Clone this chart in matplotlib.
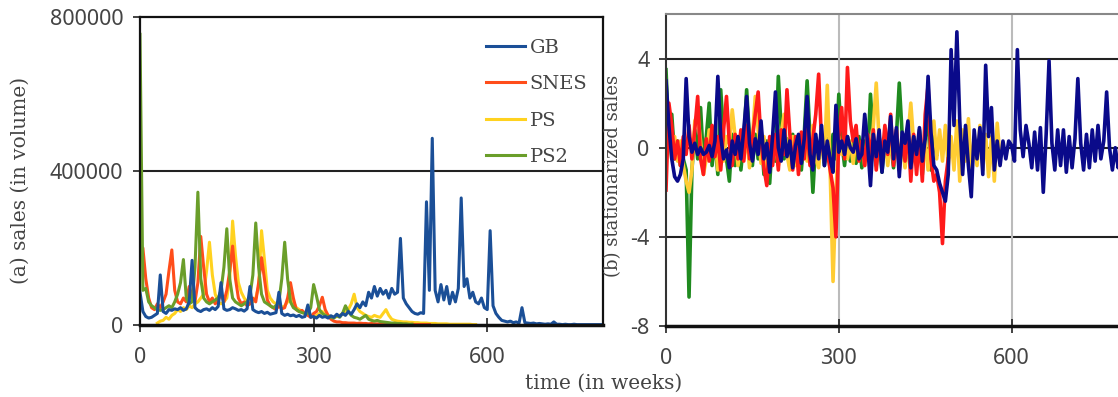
import numpy as np
import matplotlib
matplotlib.use("Agg")
import matplotlib.pyplot as plt

plt.rcParams["axes.unicode_minus"] = False

# weekly sales (thousands of units), sampled every 5 weeks
step = 5

gb_start = 0
gb_sales = [85, 35, 22, 18, 20, 25, 30, 130, 35, 30, 40, 38, 42, 40, 45, 38, 42, 60, 168, 45,
            38, 35, 40, 42, 38, 45, 40, 48, 110, 42, 38, 40, 45, 42, 38, 40, 36, 42, 100, 40,
            35, 32, 35, 30, 33, 28, 30, 32, 85, 30, 25, 28, 24, 26, 22, 25, 20, 22, 52, 20,
            22, 18, 25, 20, 22, 18, 24, 20, 28, 22, 30, 25, 35, 28, 40, 55, 45, 60, 50, 85,
            70, 100, 75, 95, 80, 90, 70, 95, 80, 85, 225, 70, 55, 45, 35, 30, 28, 32, 30, 320,
            90, 485, 90, 60, 105, 65, 100, 55, 85, 60, 95, 330, 100, 120, 70, 85, 60, 55, 70, 45,
            40, 245, 50, 30, 20, 12, 10, 8, 10, 6, 8, 5, 45, 6, 5, 4, 5, 3, 4, 3,
            2, 3, 2, 8, 2, 2, 1, 2, 1, 1, 2, 1, 1, 1, 1, 1, 1, 1, 1, 1, 1]

snes_start = 0
snes_sales = [190, 200, 120, 70, 45, 40, 55, 45, 60, 80, 140, 195, 90, 60, 55, 70, 60, 100, 75, 60,
              110, 230, 150, 80, 60, 70, 55, 65, 80, 60, 90, 140, 205, 120, 70, 55, 60, 50, 55, 70,
              60, 110, 175, 120, 65, 50, 45, 40, 50, 42, 45, 70, 110, 70, 40, 35, 38, 30, 25, 20,
              30, 35, 50, 72, 40, 25, 15, 10, 8, 8, 6, 6, 5, 5, 5, 4, 5, 4, 4, 3,
              4, 3, 3, 3, 3, 2, 3, 2, 2, 2, 2, 2, 2, 1, 2, 1, 1, 1, 1, 1, 1]

ps_start = 30
ps_sales = [5, 10, 12, 20, 15, 25, 30, 40, 35, 45, 40, 50, 45, 55, 60, 70, 80, 140, 215, 130,
            80, 60, 55, 60, 70, 120, 270, 180, 110, 85, 70, 60, 55, 60, 70, 100, 245, 170, 90, 70,
            60, 55, 50, 45, 50, 60, 90, 60, 45, 40, 35, 30, 28, 25, 22, 25, 30, 35, 28, 25,
            22, 20, 22, 25, 30, 35, 40, 55, 80, 45, 35, 30, 25, 22, 20, 25, 22, 20, 30, 40,
            25, 15, 12, 10, 9, 8, 8, 7, 7, 6, 6, 5, 5, 5, 4, 4, 4, 3, 3, 3,
            3, 2, 2, 2, 2, 2, 2, 2, 2, 1, 1]

ps2_start = 0
ps2_sales = [755, 90, 95, 60, 50, 45, 40, 38, 40, 45, 50, 45, 60, 80, 110, 170, 70, 55, 60, 150,
             345, 120, 70, 60, 55, 60, 65, 70, 90, 150, 250, 120, 70, 60, 55, 50, 55, 60, 75, 130,
             265, 150, 80, 60, 55, 50, 45, 50, 60, 120, 215, 120, 60, 45, 40, 35, 32, 30, 30, 45,
             105, 75, 40, 30, 25, 22, 20, 18, 25, 20, 30, 50, 35, 25, 20, 18, 15, 20, 25, 15,
             12, 10, 12, 9, 8, 7, 6, 5, 5, 4, 4, 3, 3, 2, 2]

# stationarized sales, same 5-week sampling
gb_stat = [3.0, 1.0, -0.5, -1.3, -1.5, -1.2, -0.5, 3.1, 0.5, -0.2, 0.2, -0.3, 0.0, -0.3, -0.2, 0.1, -0.4, 0.3, 3.2, 0.5,
           -0.5, -0.1, -0.9, 0.3, -0.3, 0.5, -0.5, 0.8, 2.3, 0.2, -0.6, 0.4, -0.3, 1.2, -0.5, 0.2, -1.1, 0.5, 2.5, 0.0,
           -0.6, 0.8, -0.4, 0.3, -0.9, 0.1, 0.6, -0.7, 0.4, 2.3, -0.3, -1.0, 0.6, -0.5, 1.0, -0.8, 0.3, -0.5, -1.1, 1.9,
           -0.2, 0.3, -0.3, 0.5, 0.0, -0.2, 0.4, -0.5, -0.3, 1.5, 0.2, -1.7, 0.6, -0.4, 0.8, -1.1, 0.3, -0.2, 1.4, -0.5,
           0.9, -1.3, 0.7, 0.2, 1.2, -0.9, 0.5, -0.3, 0.9, -0.6, 0.4, 3.2, 0.7, -0.8, -1.0, -1.6, -2.0, -2.4, -1.2, 4.4,
           1.0, 5.2, 1.2, -1.2, 1.0, -0.8, -2.2, 0.8, -0.5, 0.9, -1.2, 3.7, 0.5, 1.8, -1.0, 0.3, -0.8, 0.3, -0.5, 0.3,
           0.1, -0.6, 4.4, 0.8, -0.4, 1.0, 0.2, -0.9, 0.7, -1.0, 0.9, -2.0, 0.6, 3.9, 0.2, -1.0, 0.8, -0.8, 0.8, -1.1,
           0.5, -0.9, 0.4, 3.1, 0.2, -1.0, 0.6, -0.9, 0.8, -0.6, 1.0, -0.5, 0.3, 2.5, 0.0, -1.0, 0.0, -0.9, 0.0, -0.2, 0.0]

snes_stat = [-1.9, 2.0, 1.0, -0.5, 0.3, -0.8, 0.5, -0.3, 1.0, -0.5, 0.8, 2.3, -0.5, -1.2, 0.4, -0.6, 1.0, -0.4, 0.5, -1.0,
             0.8, 2.3, 0.2, -0.8, 0.6, -0.5, 0.8, -0.6, 1.0, -0.5, 0.4, 1.5, 2.5, 0.3, -0.9, -1.7, 0.5, -0.8, 0.6, -1.0,
             0.8, -0.3, 2.6, 0.6, -1.0, 0.5, -1.2, 0.7, -0.5, 1.0, -0.8, 0.4, 1.5, 3.3, 0.3, -0.5, -0.2, -1.0, -1.8, -4.0,
             0.5, 1.8, -0.5, 3.6, 1.2, 0.3, 1.0, -0.6, 0.3, -0.8, 0.6, -0.3, 0.8, -1.0, 0.5, -0.5, 1.0, -0.3, 1.5, -0.8,
             0.8, -1.0, 0.4, -0.6, 1.0, -1.5, 0.6, -1.2, 0.5, -1.5, 1.5, 2.8, -0.5, -1.5, -1.2, -2.0, -4.3, -1.5, -0.5]

ps_stat = [1.5, 0.5, -0.5, 0.5, -0.6, 0.3, -0.8, -1.5, -2.0, -1.0, 1.2, 1.5, 0.3, -1.2, -0.5, 0.8, -0.3, 0.5, -1.0, 0.3,
           -0.6, 0.5, 0.2, 1.7, 0.5, -0.8, 0.3, -0.5, 0.6, -0.9, 0.4, 2.3, 0.8, -0.7, 0.5, -1.0, 0.4, -0.6, 0.2, -0.8,
           0.6, 1.5, -0.3, -1.0, 0.5, -0.8, 0.4, -0.5, 0.7, -0.6, 0.3, 1.0, -0.5, -0.9, 0.5, -0.6, 2.8, -1.0, -6.0, -2.0,
           0.5, -0.3, 0.6, -0.5, 0.3, -0.7, 0.5, -0.4, 0.2, -0.8, 0.6, -0.5, 1.0, 2.9, 0.3, -0.6, 0.5, -0.8, 0.4, -0.6,
           0.8, -0.5, 0.3, -0.9, 0.5, 2.0, 0.2, -0.8, 0.5, -0.6, 0.3, -1.0, 0.5, 1.2, -0.5, 0.8, -0.6, 1.0, -0.8, 0.5,
           -1.0, 1.2, -1.5, 0.8, -0.6, 1.3, -1.2, 0.5, -0.8, 1.0, -1.0, 0.6, -1.3, 0.5, -1.5, 1.1, -0.5]

ps2_stat = [3.5, 0.5, 1.5, -0.5, 0.3, -0.8, -0.5, -1.0, -6.7, -1.0, 0.8, -0.5, 1.8, -0.6, 0.5, 2.0, -0.8, 0.4, -1.2, 2.6,
            0.5, -0.5, -1.5, 0.6, -0.8, 0.5, -1.0, 0.3, 2.6, 0.4, -0.8, 0.6, -0.5, 0.8, -1.2, 0.3, -1.6, 0.5, -0.6, 3.2,
            0.8, -0.5, 0.4, -0.9, 0.6, -0.7, 0.5, -1.0, 0.6, 3.0, 0.5, -2.0, 0.3, -0.6, 0.5, -0.8, 0.4, -0.5, 0.6, -0.5,
            2.4, 0.3, -0.8, 0.5, -0.6, 0.4, -0.7, 0.5, -0.9, 0.3, -0.5, 2.4, 0.3, -0.8, 0.5, -1.1, 0.6, -0.5, 0.4, -0.9,
            0.5, 2.9, 0.6, -0.8, 0.4, -1.0, 0.5, -0.7, 0.8, -1.2, 0.5, 1.2, -1.0, 0.5, -0.3]

labels = ["GB", "SNES", "PS", "PS2"]


def weeks(start, vals):
    return start + step * np.arange(len(vals))


serif = "DejaVu Serif"
tickfont = "Noto Sans"
txt = "#444444"

fig = plt.figure(figsize=(11.18, 3.97), dpi=100)
ax1 = fig.add_axes([140 / 1118, 1 - 325 / 397, 463 / 1118, 308 / 397])
ax2 = fig.add_axes([666 / 1118, 1 - 326 / 397, 460.8 / 1118, 312 / 397])

# (a) raw sales
left_cols = {"GB": "#1b4f97", "SNES": "#ff4d1a", "PS": "#ffd21f", "PS2": "#6a9e2a"}
ax1.axhline(400000, color="#222222", lw=1.5, zorder=1)
lines = {}
for name, start, vals in [("PS", ps_start, ps_sales), ("SNES", snes_start, snes_sales),
                          ("PS2", ps2_start, ps2_sales), ("GB", gb_start, gb_sales)]:
    lines[name], = ax1.plot(weeks(start, vals), np.array(vals) * 1000,
                            color=left_cols[name], lw=2.2, zorder=2)
ax1.set_xlim(0, 800)
ax1.set_ylim(0, 800000)
ax1.set_xticks([0, 300, 600])
ax1.set_yticks([0, 400000, 800000])
ax1.set_ylabel("(a) sales (in volume)", family=serif, fontsize=14.5, color=txt)
ax1.yaxis.set_label_coords(-0.238, 0.47)
for s in ax1.spines.values():
    s.set_color("#111111")
    s.set_linewidth(1.6)
ax1.spines["bottom"].set_linewidth(2.5)
leg = ax1.legend([lines[n] for n in labels], labels, loc="upper left",
                 bbox_to_anchor=(0.73, 0.955), frameon=False,
                 prop={"family": serif, "size": 14}, handlelength=2.0,
                 handletextpad=0.25, labelspacing=0.95, borderaxespad=0)
for t in leg.get_texts():
    t.set_color(txt)

# (b) stationarized sales
right_cols = {"GB": "#0a0a8a", "SNES": "#ff1a1a", "PS": "#ffcc33", "PS2": "#1f8a1f"}
for y in [4, 0, -4]:
    ax2.axhline(y, color="#222222", lw=1.5, zorder=1)
for x in [300, 600]:
    ax2.axvline(x, color="#bbbbbb", lw=1.5, zorder=1)
for name, vals in [("PS2", ps2_stat), ("PS", ps_stat), ("SNES", snes_stat), ("GB", gb_stat)]:
    ax2.plot(weeks(0, vals), vals, color=right_cols[name], lw=2.6, zorder=2)
ax2.set_xlim(0, 800)
ax2.set_ylim(-8, 6)
ax2.set_xticks([0, 300, 600])
ax2.set_yticks([-8, -4, 0, 4])
ax2.set_ylabel("(b) stationarized sales", family=serif, fontsize=13, color=txt)
ax2.yaxis.set_label_coords(-0.095, 0.48)
ax2.spines["top"].set_color("#888888")
ax2.spines["top"].set_linewidth(1.5)
ax2.spines["left"].set_color("#333333")
ax2.spines["left"].set_linewidth(1.5)
ax2.spines["right"].set_visible(False)
ax2.spines["bottom"].set_color("#111111")
ax2.spines["bottom"].set_linewidth(2.5)

for ax in (ax1, ax2):
    ax.tick_params(direction="inout", length=10, width=1.2, color="#222222",
                   labelsize=15.5, labelcolor=txt)
    ax.tick_params(axis="x", pad=11)
    ax.tick_params(axis="y", pad=7)
    for lab in ax.get_xticklabels() + ax.get_yticklabels():
        lab.set_family(tickfont)

fig.text(0.54, 0.02, "time (in weeks)", family=serif, fontsize=14.5, color=txt, ha="center")

fig.savefig("out.png", dpi=100)
